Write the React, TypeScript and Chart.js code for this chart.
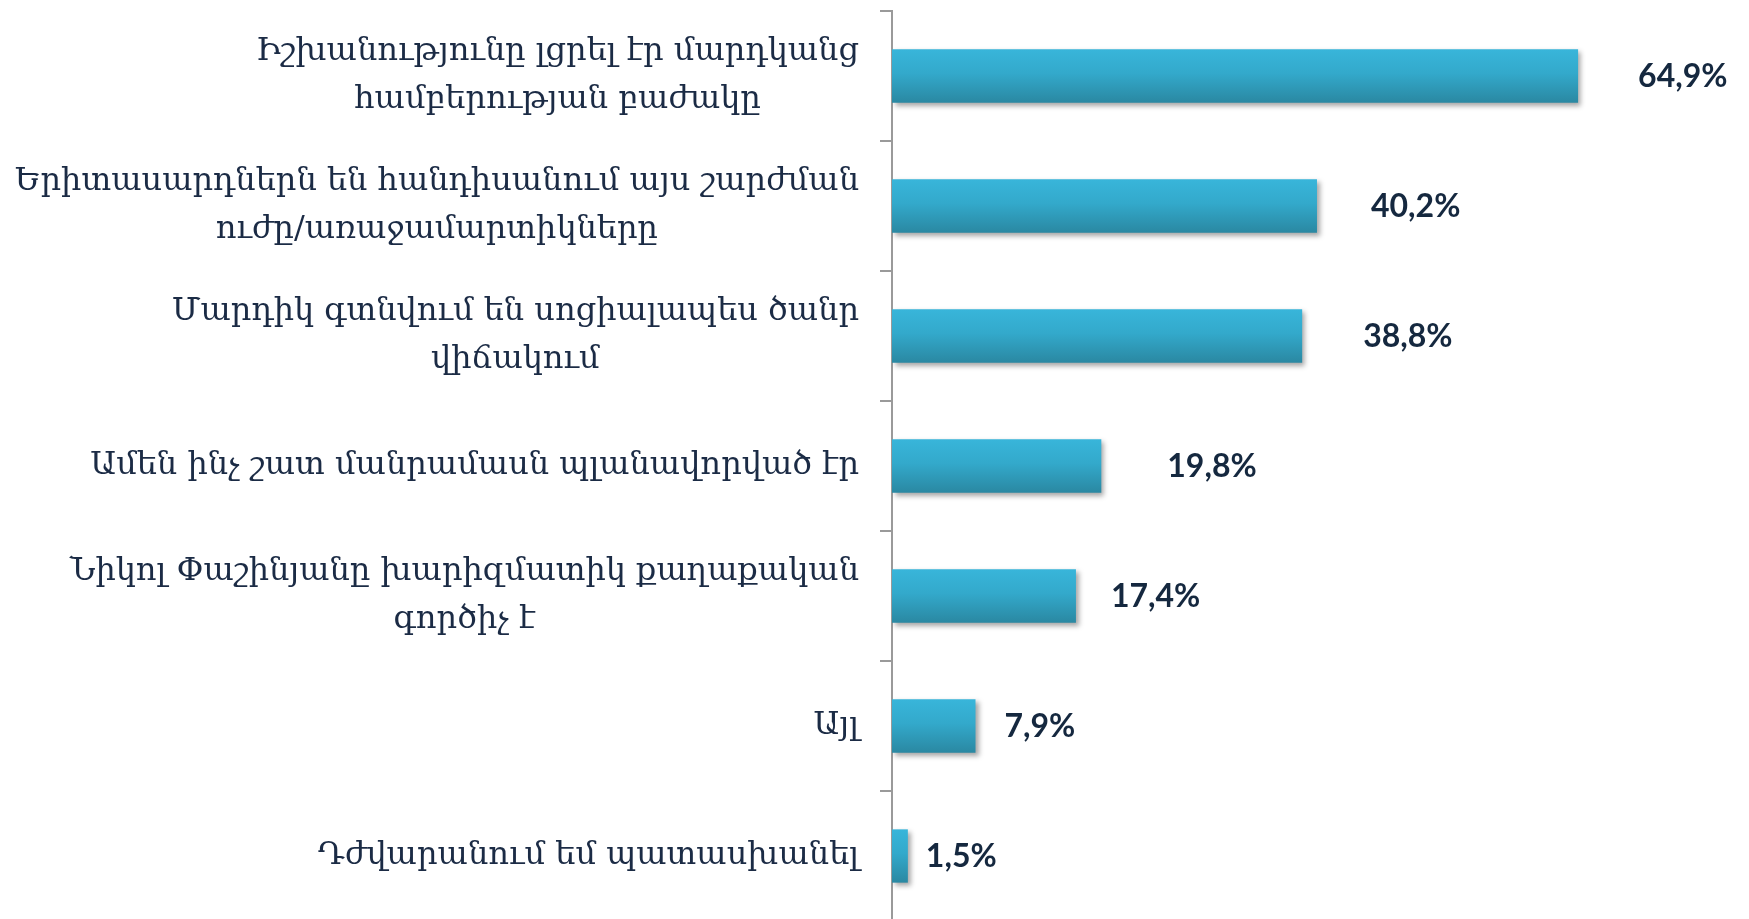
import React, { useEffect, useRef } from "react";
import { Chart, registerables } from "chart.js";

Chart.register(...registerables);

const categories: string[][] = [
  ["Իշխանությունը լցրել էր մարդկանց", "համբերության բաժակը"],
  ["Երիտասարդներն են հանդիսանում այս շարժման", "ուժը/առաջամարտիկները"],
  ["Մարդիկ գտնվում են սոցիալապես ծանր", "վիճակում"],
  ["Ամեն ինչ շատ մանրամասն պլանավորված էր"],
  ["Նիկոլ Փաշինյանը խարիզմատիկ քաղաքական", "գործիչ է"],
  ["Այլ"],
  ["Դժվարանում եմ պատասխանել"],
];
const values: number[] = [64.9, 40.2, 38.8, 19.8, 17.4, 7.9, 1.5];
const valueLabels: string[] = ["64,9%", "40,2%", "38,8%", "19,8%", "17,4%", "7,9%", "1,5%"];

// style: horizontal gap (px) between bar end and its label, as placed in the original
const LABEL_GAPS = [60, 54, 61, 66, 35, 29, 18];

const W = 1749;
const H = 921;
const AXIS_X = 892;
const LABEL_RIGHT_GAP = 33;
const CAT_FONT = "32px 'DejaVu Serif'";
const CAT_LINE_H = 48;

export default function App() {
  const ref = useRef<HTMLCanvasElement | null>(null);

  useEffect(() => {
    document.documentElement.style.overflow = "hidden";
    document.body.style.overflow = "hidden";
    const canvas = ref.current!;
    const barFrac = 0.41;

    const gradientFor = (ctx: any) => {
      const chart = ctx.chart;
      const y = chart.scales?.y;
      if (!y || ctx.dataIndex === undefined) return "#33a8c9";
      const c = y.getPixelForValue(ctx.dataIndex);
      const step = y.height / categories.length;
      const half = (step * barFrac) / 2;
      if (!isFinite(c) || !isFinite(half) || half <= 0) return "#33a8c9";
      const g = chart.ctx.createLinearGradient(0, c - half, 0, c + half);
      g.addColorStop(0, "#38b5da");
      g.addColorStop(0.45, "#33a9cb");
      g.addColorStop(1, "#2a88a2");
      return g;
    };

    const shadowPlugin = {
      id: "barShadow",
      beforeDatasetsDraw(chart: any) {
        const c = chart.ctx;
        c.save();
        c.shadowColor = "rgba(0,0,0,0.35)";
        c.shadowBlur = 5;
        c.shadowOffsetX = 3;
        c.shadowOffsetY = 3;
      },
      afterDatasetsDraw(chart: any) {
        chart.ctx.restore();
      },
    };

    const labelPlugin = {
      id: "valueLabels",
      afterDatasetsDraw(chart: any) {
        const c = chart.ctx;
        const meta = chart.getDatasetMeta(0);
        c.save();
        c.font = "bold 32px Lato";
        c.fillStyle = "#15283f";
        c.textAlign = "left";
        c.textBaseline = "middle";
        meta.data.forEach((bar: any, i: number) => {
          c.fillText(valueLabels[i], bar.x + LABEL_GAPS[i], bar.y + 1);
        });
        c.restore();
      },
    };

    // category labels: block right-aligned to the axis, lines centred within the block
    const categoryLabelPlugin = {
      id: "categoryLabels",
      afterDraw(chart: any) {
        const c = chart.ctx;
        const y = chart.scales.y;
        const right = y.right - LABEL_RIGHT_GAP;
        c.save();
        c.font = CAT_FONT;
        c.fillStyle = "#1b2b45";
        c.textAlign = "center";
        c.textBaseline = "middle";
        categories.forEach((lines, i) => {
          const cy = y.getPixelForValue(i);
          const maxW = Math.max(...lines.map((l) => c.measureText(l).width));
          const cx = right - maxW / 2;
          const top = cy - ((lines.length - 1) * CAT_LINE_H) / 2;
          lines.forEach((l, k) => c.fillText(l, cx, top + k * CAT_LINE_H));
        });
        c.restore();
      },
    };

    const chart = new Chart(canvas, {
      type: "bar",
      data: {
        labels: categories.map((l) => l.join(" ")),
        datasets: [
          {
            data: values,
            backgroundColor: gradientFor as any,
            borderWidth: 0,
            barPercentage: barFrac,
            categoryPercentage: 1,
          },
        ],
      },
      options: {
        indexAxis: "y",
        animation: false,
        responsive: false,
        maintainAspectRatio: false,
        events: [],
        layout: { padding: { top: 11, bottom: 0, left: 0, right: 117 } },
        plugins: {
          legend: { display: false },
          tooltip: { enabled: false },
        },
        scales: {
          x: {
            display: false,
            min: 0,
            max: 70,
          },
          y: {
            type: "category",
            afterFit(scale: any) {
              scale.width = AXIS_X;
              scale.paddingTop = 0;
              scale.paddingBottom = 0;
            },
            border: { display: true, color: "#9a9a9a", width: 2 },
            grid: {
              offset: true,
              drawOnChartArea: false,
              drawTicks: true,
              tickLength: 12,
              color: "#9a9a9a",
              lineWidth: 2,
            },
            ticks: { display: false },
          },
        },
      },
      plugins: [shadowPlugin, labelPlugin, categoryLabelPlugin],
    });
    chart.update();
    return () => chart.destroy();
  }, []);

  return (
    <canvas
      ref={ref}
      width={W}
      height={H}
      style={{ position: "fixed", left: 0, top: 0, width: W, height: H }}
    />
  );
}
